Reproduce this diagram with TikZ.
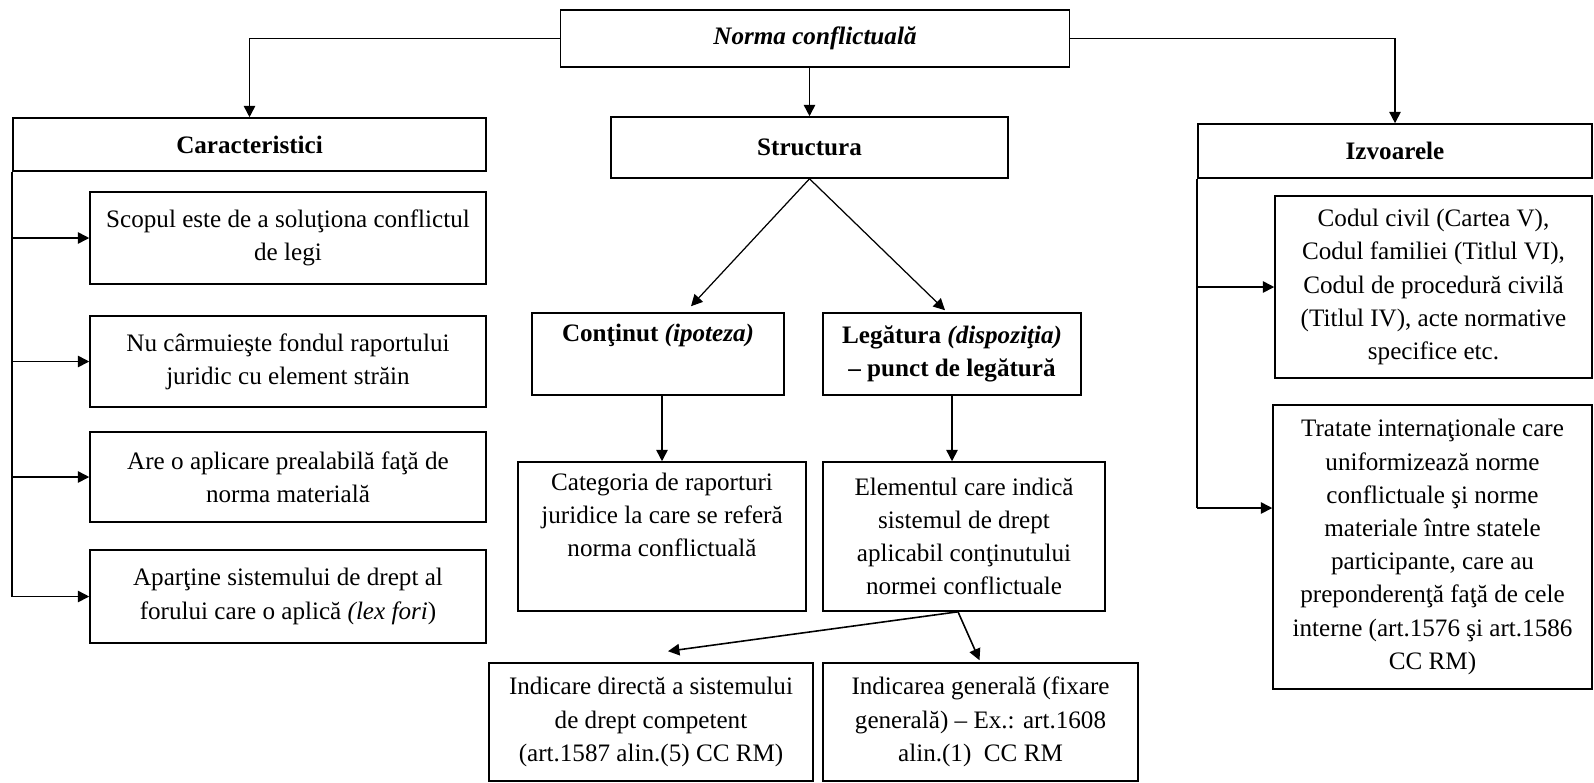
\documentclass[tikz,border=0pt]{standalone}
\usepackage{fontspec}
\setmainfont{Liberation Serif}
\usetikzlibrary{arrows.meta,calc}

\begin{document}
\begin{tikzpicture}[x=0.02cm, y=-0.02cm,
    box/.style={draw, line width=0.9pt, align=center, inner sep=0pt, font=\fontsize{14.3}{18.9}\selectfont},
    arr/.style={line width=0.9pt, -{Triangle[length=6.5pt,width=6.5pt]}},
    thinarr/.style={line width=0.7pt, -{Triangle[length=6.5pt,width=6.5pt]}}]
    \useasboundingbox (0,0) rectangle (1594,782);

    \node[box, minimum width=10.18cm, minimum height=1.14cm] (norma) at (815,38.5) {\textbf{\textit{Norma conflictuală}}};
    \node[box, minimum width=9.46cm, minimum height=1.06cm] (carac) at (249.5,144.5) {\textbf{Caracteristici}};
    \node[box, minimum width=7.94cm, minimum height=1.22cm] (struct) at (809.5,147.5) {\textbf{Structura}};
    \node[box, minimum width=7.88cm, minimum height=1.08cm] (izvo) at (1395,151) {\textbf{Izvoarele}};

    \node[box, minimum width=7.92cm, minimum height=1.84cm] (item1) at (288,238) {Scopul este de a soluţiona conflictul\\de legi};
    \node[box, minimum width=7.92cm, minimum height=1.82cm] (item2) at (288,361.5) {Nu cârmuieşte fondul raportului\\juridic cu element străin};
    \node[box, minimum width=7.92cm, minimum height=1.80cm] (item3) at (288,477) {Are o aplicare prealabilă faţă de\\norma materială};
    \node[box, minimum width=7.92cm, minimum height=1.86cm] (item4) at (288,596.5) {Aparţine sistemului de drept al\\forului care o aplică \textit{(lex fori})};

    \node[box, minimum width=5.04cm, minimum height=1.64cm] (cont) at (658,354) {\textbf{Conţinut \textit{(ipoteza)}}\\\strut};
    \node[box, minimum width=5.16cm, minimum height=1.64cm] (leg) at (952,354) {\textbf{Legătura \textit{(dispoziţia)}}\\\textbf{– punct de legătură}};
    \node[box, minimum width=5.76cm, minimum height=2.98cm] (categ) at (662,536.5) {Categoria de raporturi\\juridice la care se referă\\norma conflictuală\\\strut};
    \node[box, minimum width=5.64cm, minimum height=2.98cm] (elem) at (964,536.5) {Elementul care indică\\sistemul de drept\\aplicabil conţinutului\\normei conflictuale};
    \node[box, minimum width=6.48cm, minimum height=2.36cm] (indir) at (651,722) {Indicare directă a sistemului\\de drept competent\\(art.1587 alin.(5) CC RM)};
    \node[box, minimum width=6.30cm, minimum height=2.36cm] (indgen) at (980.5,722) {Indicarea generală (fixare\\generală) – Ex.: art.1608\\alin.(1)~~CC RM};

    \node[box, minimum width=6.34cm, minimum height=3.64cm] (codul) at (1433.5,287) {Codul civil (Cartea V),\\Codul familiei (Titlul VI),\\Codul de procedură civilă\\(Titlul IV), acte normative\\specifice etc.};
    \node[box, minimum width=6.38cm, minimum height=5.68cm] (trat) at (1432.5,547) {Tratate internaţionale care\\uniformizează norme\\conflictuale şi norme\\materiale între statele\\participante, care au\\preponderenţă faţă de cele\\interne (art.1576 şi art.1586\\CC RM)};

    \draw[arr] (norma.west) -| (carac.north);
    \draw[arr] (norma.south -| struct.north) -- (struct.north);
    \draw[arr] (norma.east) -| (izvo.north);

    \draw[line width=0.9pt] (carac.south west) -- (carac.south west |- item4.west);
    \foreach \i in {1,...,4}
        \draw[arr] (carac.south west |- item\i.west) -- (item\i.west);

    \draw[thinarr] (struct.south) -- ($(cont.north)+(33,-6)$);
    \draw[thinarr] (struct.south) -- ($(leg.north)+(-7,-2)$);
    \draw[arr] (categ.north |- cont.south) -- (categ.north);
    \draw[arr] (leg.south) -- (leg.south |- elem.north);
    \draw[arr] ($(elem.south)+(-6,0)$) -- ($(indir.north)+(17,-11)$);
    \draw[arr] ($(elem.south)+(-6,0)$) -- ($(indgen.north)+(-1,-2)$);

    \coordinate (tin) at ($(trat.west)+(0,-39)$);
    \draw[line width=0.9pt] (izvo.south west) -- (izvo.south west |- tin);
    \draw[arr] (izvo.south west |- codul.west) -- (codul.west);
    \draw[arr] (izvo.south west |- tin) -- (tin);
\end{tikzpicture}
\end{document}
